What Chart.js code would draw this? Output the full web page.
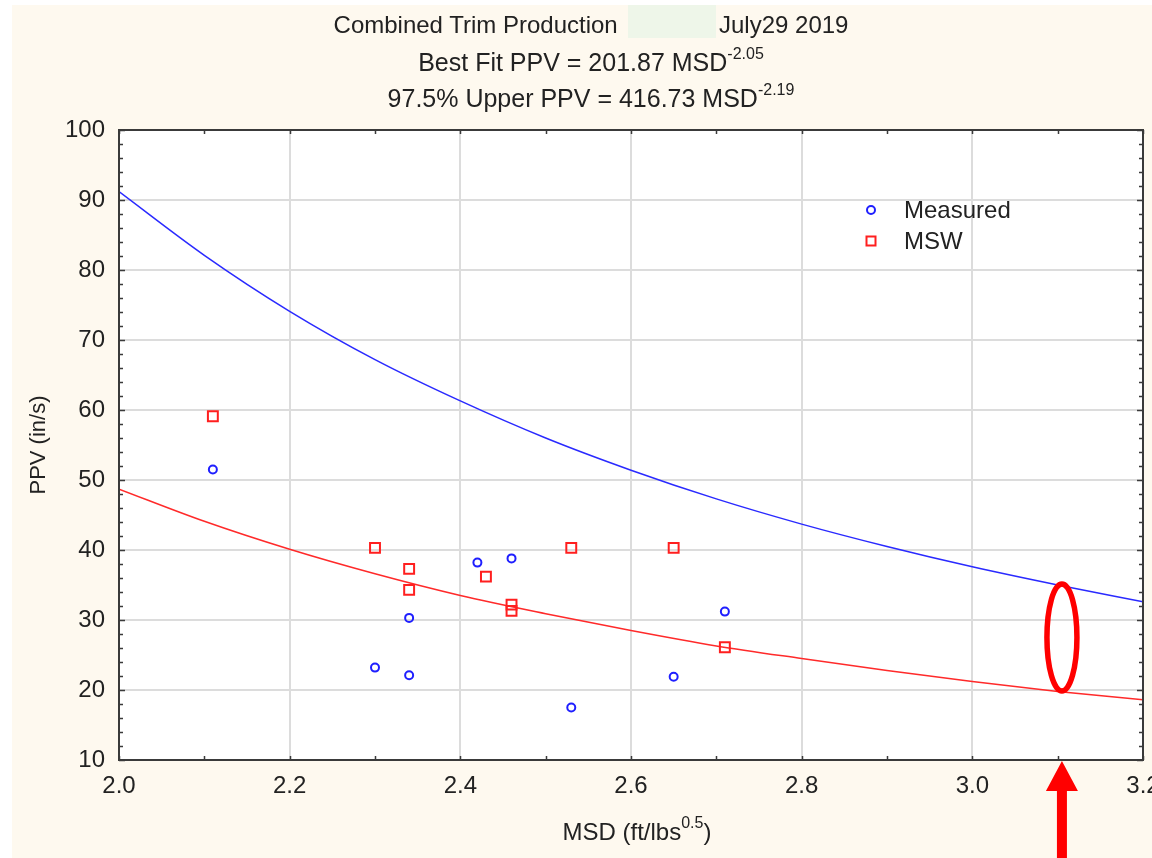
<!DOCTYPE html>
<html>
<head>
<meta charset="utf-8">
<script src="https://cdn.jsdelivr.net/npm/chart.js@4"></script>
<style>
	html, body { margin: 0; padding: 0; background: #fff; }
	body { width: 1152px; height: 858px; position: relative; overflow: hidden; font-family: "Liberation Sans", Arial, sans-serif; color: #222; }
	#bg { position: absolute; left: 12px; top: 5px; right: 0; bottom: 0; background: #fef9ef; }
	#chart { position: absolute; left: 0; top: 0; display: block; }
	.titre { position: absolute; left: 0; width: 1182px; text-align: center; font-size: 24px; line-height: 28px; white-space: nowrap; }
	.grande { font-size: 25px; }
	.titre sup, #xtitle sup { font-size: 16px; line-height: 0; position: relative; top: -3px; }
	#masque { position: absolute; left: 628px; top: 5px; width: 88px; height: 33px; background: #eef6e9; }
	#xtitle { position: absolute; left: 0; width: 1274px; top: 818px; text-align: center; font-size: 24px; line-height: 28px; white-space: nowrap; }
</style>
</head>
<body>
<div id="bg"></div>
<div id="masque"></div>
<canvas id="chart" width="1152" height="858"></canvas>
<div class="titre" style="top:11px">Combined Trim Production <span style="display:inline-block;width:88px"></span> July29 2019</div>
<div class="titre grande" style="top:48px">Best Fit PPV = 201.87 MSD<sup>-2.05</sup></div>
<div class="titre grande" style="top:84px">97.5% Upper PPV = 416.73 MSD<sup>-2.19</sup></div>
<div id="xtitle">MSD (ft/lbs<sup>0.5</sup>)</div>
<script>
// Valori
const msdMisurati = [2.11, 2.30, 2.34, 2.34, 2.42, 2.46, 2.53, 2.65, 2.71];
const ppvMisurati = [51.5, 23.2, 30.3, 22.1, 38.2, 38.8, 17.5, 21.9, 31.2];

const msdMsw = [2.11, 2.30, 2.34, 2.34, 2.43, 2.46, 2.46, 2.53, 2.65, 2.71];
const ppvMsw = [59.1, 40.3, 37.3, 34.3, 36.2, 32.2, 31.3, 40.3, 40.3, 26.1];

// Curve lette ogni 0.1 di MSD
const msdCurva = [2.0, 2.1, 2.2, 2.3, 2.4, 2.5, 2.6, 2.7, 2.8, 2.9, 3.0, 3.1, 3.2];
const ppvSuperiore = [91.2, 82.1, 74.1, 67.2, 61.3, 56.0, 51.4, 47.3, 43.7, 40.5, 37.6, 35.0, 32.6];
const ppvBestFit = [48.7, 44.1, 40.1, 36.6, 33.5, 30.9, 28.5, 26.3, 24.5, 22.8, 21.2, 19.8, 18.6];

const xTicks = [2.0, 2.2, 2.4, 2.6, 2.8, 3.0, 3.2];
const yTicks = [10, 20, 30, 40, 50, 60, 70, 80, 90, 100];

// Evidenziazione a mano (ellisse + freccia)
const msdEvidenziato = 3.105;
const ppvEvidenziato = [20, 35];

const FONT = '"Liberation Sans", Arial, sans-serif';
const BLU = '#1f1fff';
const ROSSO = '#ff1f1f';

function punti(xs, ys) {
	return xs.map((x, i) => ({ x: x, y: ys[i] }));
}

// Sfondo, cornice, tacche interne, legenda e segni rossi
const cornice = {
	id: 'cornice',
	beforeDraw(chart) {
		let a = chart.chartArea;
		let ctx = chart.ctx;
		ctx.save();
		ctx.fillStyle = '#fff';
		ctx.fillRect(a.left, a.top, a.right - a.left, a.bottom - a.top);
		ctx.restore();
	},
	afterDatasetsDraw(chart) {
		let a = chart.chartArea;
		let ctx = chart.ctx;
		let xs = chart.scales.x, ys = chart.scales.y;
		ctx.save();
		ctx.strokeStyle = '#3a3a3a';
		ctx.lineWidth = 2;
		ctx.strokeRect(a.left, a.top, a.right - a.left, a.bottom - a.top);

		// tacche
		ctx.lineWidth = 1.5;
		ctx.beginPath();
		for (let v = 2.0; v <= 3.2001; v += 0.1) {
			let px = Math.round(xs.getPixelForValue(v)) + 0.5;
			ctx.moveTo(px, a.bottom); ctx.lineTo(px, a.bottom - 4);
			ctx.moveTo(px, a.top); ctx.lineTo(px, a.top + 4);
		}
		for (let v = 10; v <= 100; v += 2) {
			let py = Math.round(ys.getPixelForValue(v)) + 0.5;
			let l = v % 10 === 0 ? 6 : 4;
			ctx.moveTo(a.left, py); ctx.lineTo(a.left + l, py);
			ctx.moveTo(a.right, py); ctx.lineTo(a.right - l, py);
		}
		ctx.stroke();

		// legenda
		let lx = 871, ly = 210;
		ctx.lineWidth = 2;
		ctx.strokeStyle = BLU;
		ctx.beginPath();
		ctx.arc(lx, ly, 4, 0, Math.PI * 2);
		ctx.stroke();
		ctx.strokeStyle = ROSSO;
		ctx.strokeRect(lx - 4.5, ly + 31 - 4.5, 9, 9);
		ctx.fillStyle = '#222';
		ctx.font = '24px ' + FONT;
		ctx.textBaseline = 'middle';
		ctx.fillText('Measured', 904, ly + 1);
		ctx.fillText('MSW', 904, ly + 32);

		// ellisse e freccia
		let cx = xs.getPixelForValue(msdEvidenziato);
		let y1 = ys.getPixelForValue(ppvEvidenziato[1]);
		let y2 = ys.getPixelForValue(ppvEvidenziato[0]);
		ctx.strokeStyle = '#ff0000';
		ctx.lineWidth = 5.5;
		ctx.beginPath();
		ctx.ellipse(cx, (y1 + y2) / 2, 15, (y2 - y1) / 2 + 1, 0, 0, Math.PI * 2);
		ctx.stroke();

		ctx.fillStyle = '#ff0000';
		ctx.beginPath();
		ctx.moveTo(cx, a.bottom + 1);
		ctx.lineTo(cx + 16, a.bottom + 31);
		ctx.lineTo(cx + 5, a.bottom + 31);
		ctx.lineTo(cx + 5, 860);
		ctx.lineTo(cx - 5, 860);
		ctx.lineTo(cx - 5, a.bottom + 31);
		ctx.lineTo(cx - 16, a.bottom + 31);
		ctx.closePath();
		ctx.fill();
		ctx.restore();
	}
};

new Chart(document.getElementById('chart'), {
	type: 'scatter',
	data: {
		datasets: [
			{
				label: 'Measured',
				data: punti(msdMisurati, ppvMisurati),
				pointStyle: 'circle',
				pointRadius: 4,
				borderColor: BLU,
				backgroundColor: 'rgba(0,0,0,0)',
				borderWidth: 2,
			},
			{
				label: 'MSW',
				data: punti(msdMsw, ppvMsw),
				pointStyle: 'rect',
				pointRadius: 7,
				borderColor: ROSSO,
				backgroundColor: 'rgba(0,0,0,0)',
				borderWidth: 2,
			},
			{
				label: '97.5% Upper',
				data: punti(msdCurva, ppvSuperiore),
				showLine: true,
				pointRadius: 0,
				borderColor: '#2a2aff',
				borderWidth: 1.5,
				cubicInterpolationMode: 'monotone',
			},
			{
				label: 'Best Fit',
				data: punti(msdCurva, ppvBestFit),
				showLine: true,
				pointRadius: 0,
				borderColor: '#ff2a2a',
				borderWidth: 1.5,
				cubicInterpolationMode: 'monotone',
			},
		]
	},
	options: {
		responsive: false,
		animation: false,
		layout: { padding: { top: 130, right: 9, left: 0, bottom: 0 } },
		plugins: {
			legend: { display: false },
			tooltip: { enabled: false },
		},
		scales: {
			x: {
				type: 'linear',
				min: 2.0,
				max: 3.2,
				afterBuildTicks: (s) => { s.ticks = xTicks.map(v => ({ value: v })); },
				afterFit: (s) => { s.height = 98; s.paddingLeft = 0; s.paddingRight = 0; },
				grid: { color: '#dcdcdc', lineWidth: 2, drawTicks: false },
				border: { display: false },
				ticks: {
					padding: 12,
					color: '#222',
					font: { size: 24, family: FONT },
					maxRotation: 0,
					autoSkip: false,
					callback: (v) => Number(v).toFixed(1),
				},
			},
			y: {
				type: 'linear',
				min: 10,
				max: 100,
				afterBuildTicks: (s) => { s.ticks = yTicks.map(v => ({ value: v })); },
				afterFit: (s) => { s.width = 119; s.paddingTop = 0; s.paddingBottom = 0; },
				grid: { color: '#dcdcdc', lineWidth: 2, drawTicks: false },
				border: { display: false },
				title: {
					display: true,
					text: 'PPV (in/s)',
					color: '#222',
					font: { size: 22, family: FONT },
					padding: { top: 26, bottom: 0 },
				},
				ticks: {
					padding: 14,
					color: '#222',
					font: { size: 24, family: FONT },
				},
			},
		},
	},
	plugins: [cornice],
});
</script>
</body>
</html>
